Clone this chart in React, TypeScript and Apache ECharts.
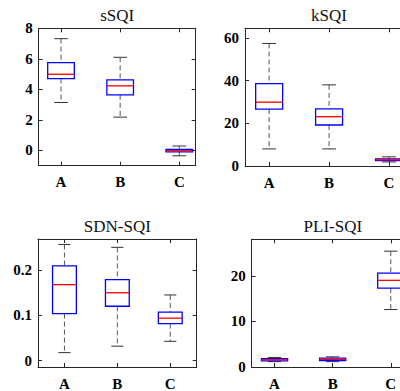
import React, { useEffect, useRef } from "react";
import * as echarts from "echarts";

const categories = ["A", "B", "C"];

// sSQI
const sLower = [3.14, 2.18, -0.35];
const sQ1 = [4.71, 3.64, -0.1];
const sMedian = [4.99, 4.23, -0.02];
const sQ3 = [5.75, 4.62, 0.07];
const sUpper = [7.32, 6.1, 0.29];

// kSQI
const kLower = [8.0, 8.0, 1.9];
const kQ1 = [26.6, 19.2, 2.5];
const kMedian = [29.9, 23.1, 2.9];
const kQ3 = [38.6, 26.8, 3.3];
const kUpper = [57.4, 38.0, 4.3];

// SDN-SQI
const dLower = [0.0177, 0.0319, 0.0426];
const dQ1 = [0.1036, 0.1198, 0.0815];
const dMedian = [0.1674, 0.1496, 0.0936];
const dQ3 = [0.209, 0.1787, 0.107];
const dUpper = [0.256, 0.2496, 0.1447];

// PLI-SQI
const pLower = [1.18, 1.18, 12.6];
const pQ1 = [1.33, 1.39, 17.3];
const pMedian = [1.58, 1.68, 19.0];
const pQ3 = [1.81, 1.96, 20.6];
const pUpper = [2.1, 2.23, 25.4];

const titles = ["sSQI", "kSQI", "SDN-SQI", "PLI-SQI"];
const yTicks = [
  [0, 2, 4, 6, 8],
  [0, 20, 40, 60],
  [0, 0.1, 0.2],
  [0, 10, 20],
];

const panels = [
  { lo: sLower, q1: sQ1, md: sMedian, q3: sQ3, hi: sUpper },
  { lo: kLower, q1: kQ1, md: kMedian, q3: kQ3, hi: kUpper },
  { lo: dLower, q1: dQ1, md: dMedian, q3: dQ3, hi: dUpper },
  { lo: pLower, q1: pQ1, md: pMedian, q3: pQ3, hi: pUpper },
];

// grid boxes (px) and axis ranges
const layout = [
  { left: 38.7, top: 28.3, right: 195.7, bottom: 165.7, xMin: 0.623, xMax: 3.277, yMin: -1, yMax: 8 },
  { left: 245, top: 28.3, right: 413, bottom: 166, xMin: 0.597, xMax: 3.4, yMin: 0, yMax: 64.5 },
  { left: 38, top: 239, right: 196.7, bottom: 371.7, xMin: 0.5, xMax: 3.5, yMin: -0.014, yMax: 0.268 },
  { left: 251.7, top: 239.3, right: 414, bottom: 372.3, xMin: 0.607, xMax: 3.4, yMin: 0, yMax: 28 },
];

const W = 420;
const H = 391;
const AX = "#262626";
const FONT = "Liberation Serif";

function renderBox(params: any, api: any) {
  const x = api.value(0);
  const lo = api.value(1);
  const q1 = api.value(2);
  const md = api.value(3);
  const q3 = api.value(4);
  const hi = api.value(5);
  const unit = api.size([1, 0])[0];
  const bw = unit * 0.45;
  const cw = unit * 0.23;
  const pLo = api.coord([x, lo]);
  const pQ1 = api.coord([x, q1]);
  const pMd = api.coord([x, md]);
  const pQ3 = api.coord([x, q3]);
  const pHi = api.coord([x, hi]);
  const cx = pMd[0];
  const dash = { stroke: "#555", lineWidth: 1, lineDash: [5, 3] };
  const cap = { stroke: "#333", lineWidth: 1 };
  return {
    type: "group",
    children: [
      { type: "line", shape: { x1: cx, y1: pHi[1], x2: cx, y2: pQ3[1] }, style: dash },
      { type: "line", shape: { x1: cx, y1: pQ1[1], x2: cx, y2: pLo[1] }, style: dash },
      { type: "line", shape: { x1: cx - cw / 2, y1: pHi[1], x2: cx + cw / 2, y2: pHi[1] }, style: cap },
      { type: "line", shape: { x1: cx - cw / 2, y1: pLo[1], x2: cx + cw / 2, y2: pLo[1] }, style: cap },
      {
        type: "rect",
        shape: { x: cx - bw / 2, y: pQ3[1], width: bw, height: pQ1[1] - pQ3[1] },
        style: { fill: "none", stroke: "#0000ff", lineWidth: 1.3 },
      },
      {
        type: "line",
        shape: { x1: cx - bw / 2, y1: pMd[1], x2: cx + bw / 2, y2: pMd[1] },
        style: { stroke: "#ff0000", lineWidth: 1.3 },
      },
    ],
  };
}

function fmtY(v: number) {
  return String(Math.round(v * 1000) / 1000);
}

export default function App() {
  const ref = useRef<HTMLDivElement>(null);
  useEffect(() => {
    if (!ref.current) return;
    const chart = echarts.init(ref.current, null, { renderer: "svg", width: W, height: H });

    const grids: any[] = [];
    const xAxes: any[] = [];
    const yAxes: any[] = [];
    const series: any[] = [];
    const titleList: any[] = [];

    layout.forEach((L, i) => {
      grids.push({ left: L.left, top: L.top, width: L.right - L.left, height: L.bottom - L.top, containLabel: false });
      const tickStyle = { color: AX, width: 1 };
      const labelStyle = {
        fontFamily: FONT,
        fontWeight: "bold",
        fontSize: 15,
        color: "#000",
      };
      xAxes.push({
        type: "value",
        gridIndex: i,
        position: "bottom",
        min: L.xMin,
        max: L.xMax,
        axisLine: { show: true, onZero: false, lineStyle: { color: AX, width: 1 } },
        axisTick: { show: true, inside: true, length: 4, customValues: [1, 2, 3], lineStyle: tickStyle },
        axisLabel: {
          show: true,
          customValues: [1, 2, 3],
          formatter: (v: number) => categories[Math.round(v) - 1],
          margin: 9,
          ...labelStyle,
        },
        splitLine: { show: false },
      });
      xAxes.push({
        type: "value",
        gridIndex: i,
        position: "top",
        min: L.xMin,
        max: L.xMax,
        axisLine: { show: true, onZero: false, lineStyle: { color: AX, width: 1 } },
        axisTick: { show: true, inside: true, length: 4, customValues: [1, 2, 3], lineStyle: tickStyle },
        axisLabel: { show: false },
        splitLine: { show: false },
      });
      yAxes.push({
        type: "value",
        gridIndex: i,
        position: "left",
        min: L.yMin,
        max: L.yMax,
        axisLine: { show: true, onZero: false, lineStyle: { color: AX, width: 1 } },
        axisTick: { show: true, inside: true, length: 4, customValues: yTicks[i], lineStyle: tickStyle },
        axisLabel: { show: true, customValues: yTicks[i], formatter: fmtY, margin: 6, ...labelStyle },
        splitLine: { show: false },
      });
      yAxes.push({
        type: "value",
        gridIndex: i,
        position: "right",
        min: L.yMin,
        max: L.yMax,
        axisLine: { show: true, onZero: false, lineStyle: { color: AX, width: 1 } },
        axisTick: { show: true, inside: true, length: 4, customValues: yTicks[i], lineStyle: tickStyle },
        axisLabel: { show: false },
        splitLine: { show: false },
      });

      const P = panels[i];
      const data = categories.map((c, k) => [k + 1, P.lo[k], P.q1[k], P.md[k], P.q3[k], P.hi[k]]);
      series.push({
        type: "custom",
        name: titles[i],
        xAxisIndex: 2 * i,
        yAxisIndex: 2 * i,
        renderItem: renderBox,
        encode: { x: 0, y: [1, 2, 3, 4, 5] },
        data,
        clip: false,
        silent: true,
      });

      titleList.push({
        text: titles[i],
        left: (L.left + L.right) / 2,
        top: i < 2 ? 7 : 218,
        textAlign: "center",
        padding: 0,
        textStyle: {
          fontFamily: FONT,
          fontWeight: "normal",
          fontSize: 17,
          color: "#111",
        },
      });
    });

    chart.setOption({
      animation: false,
      backgroundColor: "#ffffff",
      textStyle: { fontFamily: FONT },
      title: titleList,
      grid: grids,
      xAxis: xAxes,
      yAxis: yAxes,
      series,
    });
    return () => chart.dispose();
  }, []);

  return (
    <div style={{ position: "fixed", left: 0, top: 0, width: 400, height: 391, overflow: "hidden", background: "#fff" }}>
      <div ref={ref} style={{ width: W, height: H }} />
    </div>
  );
}
